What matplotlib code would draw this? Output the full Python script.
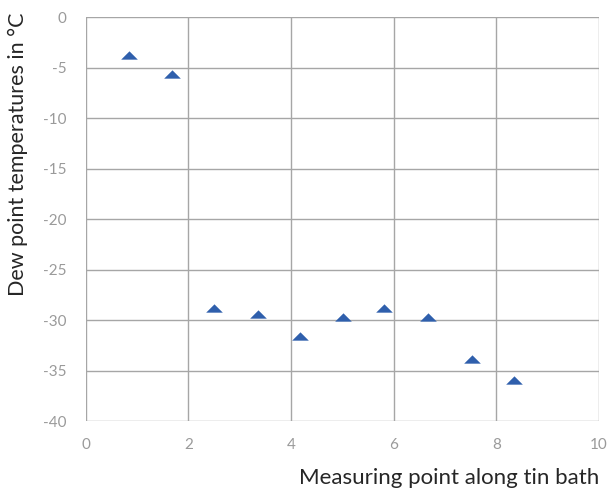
import matplotlib
matplotlib.use("Agg")
import matplotlib.pyplot as plt

x_vals = [0.84, 1.69, 2.49, 3.36, 4.18, 5.01, 5.82, 6.67, 7.52, 8.34]
y_vals = [-3.8, -5.6, -28.8, -29.4, -31.6, -29.7, -28.8, -29.7, -33.9, -35.9]
x_ticks = [0, 2, 4, 6, 8, 10]
y_ticks = [0, -5, -10, -15, -20, -25, -30, -35, -40]
x_label = "Measuring point along tin bath"
y_label = "Dew point temperatures in °C"

plt.rcParams['font.family'] = ['Lato', 'DejaVu Sans']

fig = plt.figure(figsize=(6.1, 4.9), dpi=100)
ax = fig.add_axes([0.1405, 0.1408, 0.8415, 0.8245])

grid_color = "#A6A6A6"
tri = [(-1.0, -0.5), (1.0, -0.5), (0.0, 0.5), (-1.0, -0.5)]
ax.plot(x_vals, y_vals, linestyle="none", marker=tri, markersize=12,
        color="#2F5FAC", markeredgewidth=0, zorder=3)

ax.set_xlim(0, 10)
ax.set_ylim(-40, 0)
ax.set_xticks(x_ticks)
ax.set_yticks(y_ticks)
ax.set_xticklabels([str(t) for t in x_ticks])
ax.set_yticklabels([str(t) for t in y_ticks])
ax.grid(True, color=grid_color, linewidth=1.0)
ax.set_axisbelow(True)
for s in ax.spines.values():
    s.set_visible(False)
ax.tick_params(axis="both", length=0, labelsize=11, colors="#9A9A9A")
ax.tick_params(axis="x", pad=12)
ax.tick_params(axis="y", pad=14)

fig.text(0.982, 0.004, x_label, ha="right", va="bottom", fontsize=16, color="#262626")
fig.text(0.013, 0.975, y_label, ha="left", va="top", rotation=90, fontsize=15.5, color="#262626")

fig.savefig("out.png", dpi=100, facecolor="white")
